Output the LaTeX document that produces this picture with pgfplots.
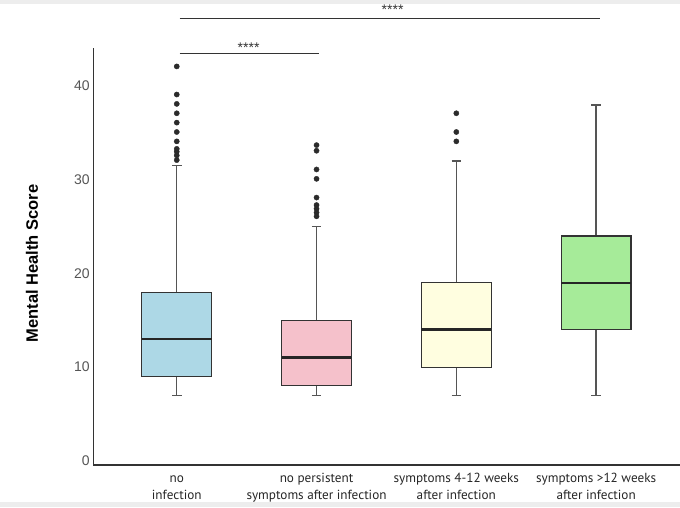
\documentclass[border=0pt]{standalone}
\usepackage{fontspec}
\setmainfont{Liberation Sans}
\newfontfamily\ptsans{PT Sans}
\usepackage{pgfplots}
\pgfplotsset{compat=1.18}
\definecolor{cblue}{HTML}{ADD8E6}
\definecolor{cpink}{HTML}{F5C1CB}
\definecolor{cyell}{HTML}{FFFEE0}
\definecolor{cgreen}{HTML}{A6EB99}
\definecolor{boxd}{HTML}{333333}
\definecolor{whisk}{HTML}{555555}
\definecolor{dotc}{HTML}{2B2B2B}
\definecolor{tickc}{HTML}{555555}
\pgfplotsset{
  wh/.style={draw=whisk, line width=1.4pt, mark=none},
  bx/.style={fill=#1, draw=boxd, line width=1.2pt, mark=none},
  md/.style={draw=black!85, line width=2.5pt, mark=none},
  ol/.style={only marks, mark=*, mark size=2.6pt, mark options={fill=dotc, draw=dotc}},
}
\begin{document}
\begin{tikzpicture}
\fill[black!7] (-93.3pt,-42pt) rectangle (586.7pt,-37pt);
\fill[black!7] (-93.3pt,465pt) rectangle (586.7pt,461pt);
\begin{axis}[
  scale only axis,
  width=586.7pt, height=417.3pt,
  xmin=0.403, xmax=4.6, ymin=-0.45, ymax=44.1,
  clip=false,
  axis x line*=bottom, axis y line*=left,
  axis line style={draw=boxd, line width=1.1pt},
  major tick length=0pt,
  xtick={1,2,3,4},
  xticklabels={{no\\infection},{no persistent\\symptoms after infection},{symptoms 4-12 weeks\\after infection},{symptoms >12 weeks\\after infection}},
  xticklabel style={align=center, anchor=base, yshift=-34.3pt, inner sep=0pt, font=\ptsans\fontsize{13.2}{16.6}\selectfont, text=black!85},
  ytick={0,10,20,30,40},
  /pgf/number format/assume math mode=true,
  yticklabel style={font=\fontsize{14}{16}\selectfont, text=tickc},
  ylabel={Mental Health Score},
  every axis y label/.style={at={(axis description cs:-0.1045,0.483)}, rotate=90, anchor=center, font=\bfseries\fontsize{16.5}{18}\selectfont},
]
% group 1: no infection
\addplot[wh] coordinates {(1,7) (1,9)};
\addplot[wh] coordinates {(1,18) (1,31.5)};
\addplot[wh] coordinates {(0.966,7) (1.034,7)};
\addplot[wh] coordinates {(0.966,31.5) (1.034,31.5)};
\addplot[bx=cblue] coordinates {(0.75,9) (1.25,9) (1.25,18) (0.75,18)} -- cycle;
\addplot[md] coordinates {(0.75,13) (1.25,13)};
\addplot[ol] coordinates {(1,42.1) (1,39.1) (1,38.1) (1,37.1) (1,36.1) (1,35.1) (1,34.1) (1,33.3) (1,33.0) (1,32.6) (1,32.1)};
% group 2: no persistent symptoms
\addplot[wh] coordinates {(2,7) (2,8)};
\addplot[wh] coordinates {(2,15) (2,25)};
\addplot[wh] coordinates {(1.966,7) (2.034,7)};
\addplot[wh] coordinates {(1.966,25) (2.034,25)};
\addplot[bx=cpink] coordinates {(1.75,8) (2.25,8) (2.25,15) (1.75,15)} -- cycle;
\addplot[md] coordinates {(1.75,11) (2.25,11)};
\addplot[ol] coordinates {(2,33.7) (2,33.1) (2,31.1) (2,30.1) (2,28.1) (2,27.3) (2,26.9) (2,26.5) (2,26.1)};
% group 3: symptoms 4-12 weeks
\addplot[wh] coordinates {(3,7) (3,10)};
\addplot[wh] coordinates {(3,19) (3,32)};
\addplot[wh] coordinates {(2.966,7) (3.034,7)};
\addplot[wh] coordinates {(2.966,32) (3.034,32)};
\addplot[bx=cyell] coordinates {(2.75,10) (3.25,10) (3.25,19) (2.75,19)} -- cycle;
\addplot[md] coordinates {(2.75,14) (3.25,14)};
\addplot[ol] coordinates {(3,37.1) (3,35.1) (3,34.1)};
% group 4: symptoms >12 weeks
\addplot[wh] coordinates {(4,7) (4,14)};
\addplot[wh] coordinates {(4,24) (4,38)};
\addplot[wh] coordinates {(3.966,7) (4.034,7)};
\addplot[wh] coordinates {(3.966,38) (4.034,38)};
\addplot[bx=cgreen] coordinates {(3.75,14) (4.25,14) (4.25,24) (3.75,24)} -- cycle;
\addplot[md] coordinates {(3.75,19) (4.25,19)};
% significance bars
\addplot[draw=boxd, line width=1.1pt, mark=none] coordinates {(1.02,47.2) (4.03,47.2)};
\addplot[draw=boxd, line width=1.1pt, mark=none] coordinates {(1.02,43.46) (2.02,43.46)};
\node[anchor=base, font=\fontsize{14}{15}\selectfont, text=boxd, inner sep=0pt] at (axis cs:2.544,47.63) {****};
\node[anchor=base, font=\fontsize{14}{15}\selectfont, text=boxd, inner sep=0pt] at (axis cs:1.514,43.63) {****};
\end{axis}
\pgfresetboundingbox
\path[use as bounding box] (-93.3pt,-42pt) rectangle (586.7pt,465pt);
\end{tikzpicture}
\end{document}
